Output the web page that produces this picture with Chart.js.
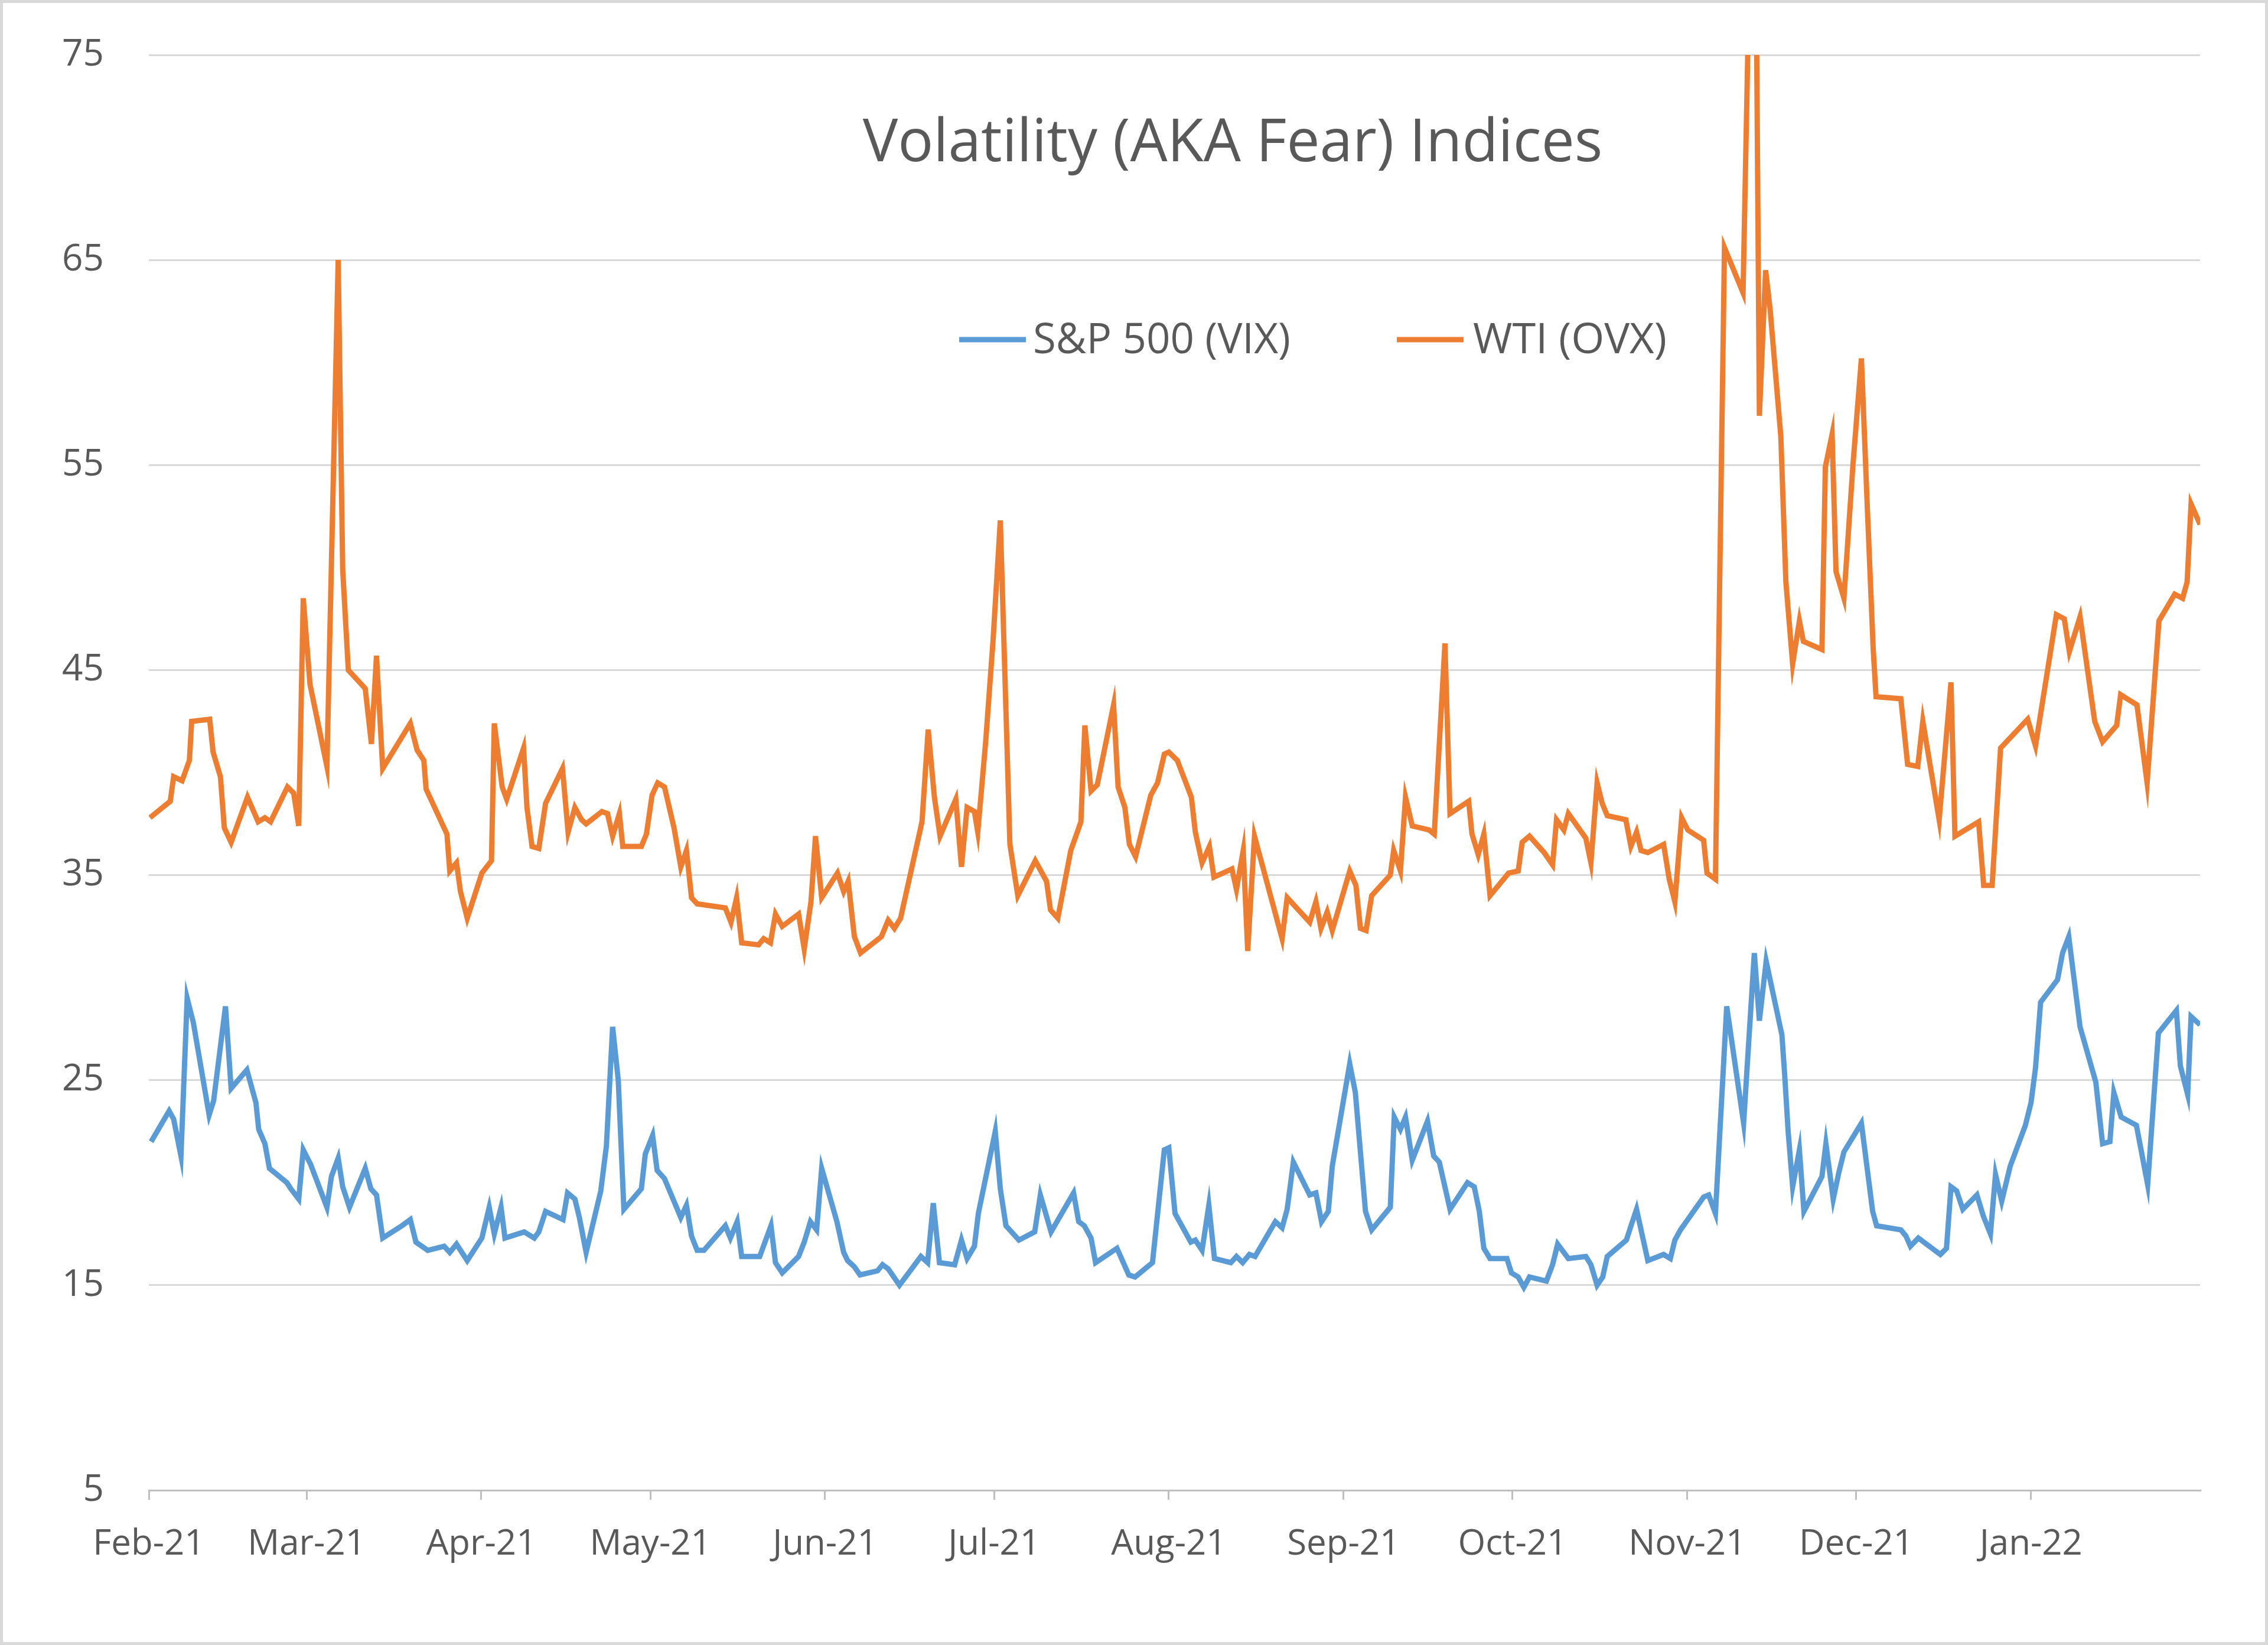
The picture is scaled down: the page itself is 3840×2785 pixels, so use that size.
<!DOCTYPE html>
<html>
<head>
<meta charset="utf-8">
<title>Volatility (AKA Fear) Indices</title>
<script src="https://cdn.jsdelivr.net/npm/chart.js@4.4.1/dist/chart.umd.min.js"></script>
<style>
  html, body { margin: 0; padding: 0; background: #fff; }
  canvas { display: block; }
</style>
</head>
<body>
<canvas id="volChart" width="3840" height="2785"></canvas>
<script>
// chart text and series
const chartTitle = 'Volatility (AKA Fear) Indices';
const seriesNames = ['S&P 500 (VIX)', 'WTI (OVX)'];
const seriesColors = ['#5b9bd5', '#ed7d31'];

// x axis: days since 1 Feb 2021, one tick per month start
const monthTicks = [0, 28, 59, 89, 120, 150, 181, 212, 242, 273, 303, 334];
const monthLabels = ['Feb-21', 'Mar-21', 'Apr-21', 'May-21', 'Jun-21', 'Jul-21',
  'Aug-21', 'Sep-21', 'Oct-21', 'Nov-21', 'Dec-21', 'Jan-22'];
const lastDay = 364;

// y axis
const yMin = 5;
const yMax = 75;
const yStep = 10;

// S&P 500 VIX (day, value)
const vixDays = [0.4, 3.6, 4.4, 5.7, 6.8, 7.9, 10.7, 11.5, 13.6, 14.6, 17.4, 19.0, 19.5, 20.6, 21.4,
  24.5, 25.2, 26.6, 27.4, 28.7, 31.6, 32.4, 33.6, 34.4, 35.6, 38.4, 39.4, 40.4, 41.5, 44.9, 46.4,
  47.4, 49.5, 52.4, 53.4, 54.6, 56.5, 59.1, 60.4, 61.3, 62.5, 63.2, 66.6, 68.4, 69.2, 70.4,
  73.5, 74.3, 75.6, 76.4, 77.6, 80.2, 81.2, 82.3, 83.3, 84.3, 87.4, 88.1, 89.4, 90.2, 91.5, 94.4,
  95.4, 96.3, 97.3, 98.5, 102.3, 103.2, 104.4, 105.2, 108.4, 110.4, 111.2, 112.4, 115.3, 116.3,
  117.4, 118.5, 119.4, 122.1, 123.3, 124.0, 125.2, 126.2, 129.3, 130.2, 131.2, 133.2, 137.0, 138.2,
  139.2, 140.3, 143.0, 144.2, 145.2, 146.5, 147.2, 150.2, 151.1, 152.1, 154.4, 157.2, 158.2, 160.1,
  164.1, 165.0, 166.0, 167.2, 168.0, 171.8, 173.9, 175.0, 178.1, 180.2, 181.0, 182.1, 184.9, 185.7,
  186.9, 188.1, 189.1, 192.0, 193.0, 194.1, 195.3, 196.3, 199.9, 201.1, 202.0, 203.1, 206.0, 207.1,
  208.1, 209.3, 210.0, 213.1, 214.1, 215.9, 217.0, 220.3, 221.0, 222.1, 223.0, 224.2, 226.9, 228.0,
  229.0, 230.9, 234.0, 235.2, 236.1, 236.9, 238.0, 241.0, 241.8, 243.0, 244.0, 245.0, 248.0, 249.1,
  250.0, 251.9, 255.0, 255.9, 257.0, 258.0, 258.8, 262.2, 262.9, 264.0, 266.0, 268.8, 270.0, 270.8,
  271.8, 275.9, 276.8, 278.0, 280.0, 283.0, 284.9, 285.8, 287.0, 289.8, 290.3, 290.9, 291.7, 292.9,
  293.7, 296.9, 297.6, 298.9, 299.9, 300.8, 303.9, 305.9, 306.6, 310.9, 311.8, 312.6, 314.0, 317.9,
  319.0, 319.8, 320.8, 321.9, 324.4, 325.5, 326.8, 327.7, 328.8, 330.3, 333.0, 334.0, 334.8, 335.7,
  338.7, 339.6, 340.7, 342.7, 345.5, 346.7, 348.0, 348.7, 350.0, 352.7, 353.6, 354.7, 356.6, 359.8,
  360.5, 361.8, 362.4, 364.0];
const vixValues = [22.0, 23.5, 23.1, 21.3, 29.0, 27.8, 23.3, 24.0, 28.6, 24.6, 25.5, 23.9, 22.6, 21.9, 20.7,
  20.0, 19.7, 19.2, 21.6, 20.9, 18.8, 20.3, 21.2, 19.8, 18.8, 20.7, 19.7, 19.4, 17.3, 17.9, 18.2,
  17.1, 16.7, 16.9, 16.6, 17.0, 16.2, 17.3, 18.8, 17.5, 18.8, 17.3, 17.6, 17.3, 17.6, 18.6,
  18.2, 19.5, 19.2, 18.3, 16.6, 19.6, 21.8, 27.6, 25.0, 18.7, 19.7, 21.4, 22.3, 20.6, 20.2, 18.3,
  18.9, 17.4, 16.7, 16.7, 17.9, 17.3, 18.1, 16.4, 16.4, 17.9, 16.1, 15.6, 16.4, 17.1,
  18.1, 17.7, 20.7, 18.1, 16.6, 16.2, 15.9, 15.5, 15.7, 16.0, 15.8, 15.0, 16.4, 16.1,
  19.0, 16.1, 16.0, 17.2, 16.3, 16.9, 18.5, 22.5, 19.7, 17.9, 17.2, 17.6, 19.4, 17.6,
  19.5, 18.1, 17.9, 17.3, 16.1, 16.8, 15.5, 15.4, 16.1, 21.6, 21.7, 18.5, 17.1, 17.2,
  16.7, 18.9, 16.3, 16.1, 16.4, 16.1, 16.5, 16.4, 18.1, 17.8, 18.7, 21.0, 19.4, 19.5,
  18.1, 18.6, 20.8, 25.8, 24.4, 18.6, 17.7, 18.8, 23.2, 22.6, 23.2, 21.1, 23.0, 21.3,
  21.0, 18.7, 20.0, 19.8, 18.6, 16.8, 16.3, 16.3, 15.6, 15.4, 14.9, 15.4, 15.2, 16.0,
  17.0, 16.3, 16.4, 16.0, 15.0, 15.4, 16.4, 17.2, 17.8, 18.7, 16.2, 16.5, 16.3, 17.2,
  17.7, 19.3, 19.4, 18.5, 28.6, 22.9, 31.2, 27.9, 30.8, 27.2, 25.2, 22.5, 19.8, 21.6,
  18.6, 20.3, 21.9, 19.2, 20.5, 21.5, 22.9, 18.6, 17.9, 17.7, 17.4, 16.9, 17.3, 16.5,
  16.8, 19.8, 19.6, 18.7, 19.4, 18.4, 17.5, 20.4, 19.1, 20.8, 22.8, 23.9, 25.6, 28.8,
  29.9, 31.2, 32.0, 27.6, 24.9, 21.9, 22.0, 24.4, 23.2, 22.8, 21.5, 19.9, 27.3, 28.4,
  25.7, 24.3, 28.1, 27.7];

// WTI OVX (day, value)
const ovxDays = [0.2, 3.8, 4.4, 5.9, 7.2, 7.6, 10.8, 11.4, 12.7, 13.4, 14.6, 17.5, 19.4, 20.6, 21.6,
  24.6, 25.7, 26.6, 27.4, 28.6, 31.6, 33.6, 34.4, 35.4, 38.4, 39.5, 40.4, 41.5, 46.4, 47.6, 48.8,
  49.2, 52.9, 53.4, 54.6, 55.3, 56.5, 59.1, 60.8, 61.3, 62.7, 63.5, 66.5, 67.1, 68.0, 69.2, 70.4,
  73.4, 74.4, 75.6, 76.8, 77.6, 80.4, 81.4, 82.3, 83.5, 84.1, 87.4, 88.3, 89.3, 90.3, 91.5, 93.2,
  94.4, 95.4, 96.3, 97.3, 102.3, 103.3, 104.3, 105.2, 108.2, 109.1, 110.3, 111.2, 112.4, 115.3,
  116.3, 117.5, 118.3, 119.4, 122.2, 123.3, 124.1, 125.2, 126.3, 130.0, 131.2, 132.3, 133.4, 137.2,
  138.3, 139.4, 140.4, 143.2, 144.2, 145.2, 146.5, 147.1, 148.5, 149.8, 151.1, 152.8, 154.2, 157.3,
  159.3, 160.0, 161.3, 163.6, 165.4, 166.1, 167.2, 168.3, 171.2, 172.0, 173.2, 174.0, 175.1, 177.8,
  179.0, 180.2, 181.0, 182.5, 185.0, 185.7, 186.9, 188.2, 189.0, 192.2, 193.0, 194.2, 195.0, 196.2,
  201.1, 202.0, 206.0, 207.1, 208.0, 209.1, 210.0, 213.1, 214.2, 215.0, 216.0, 217.0, 220.3, 220.9,
  222.1, 223.0, 224.2, 227.2, 228.1, 230.0, 230.9, 234.2, 234.8, 235.9, 236.9, 238.0, 241.3, 243.0,
  243.7, 245.0, 247.6, 249.1, 249.8, 251.1, 251.9, 255.0, 255.9, 257.0, 257.9, 258.8, 262.1, 263.0,
  264.0, 264.8, 266.0, 268.8, 269.8, 270.8, 272.0, 273.1, 275.9, 276.5, 278.0, 279.6, 282.9, 283.8,
  285.3, 285.8, 286.9, 287.7, 289.6, 290.5, 291.7, 292.9, 293.6, 296.9, 297.5, 298.7, 299.4, 300.8,
  302.4, 303.9, 305.0, 306.0, 306.5, 310.9, 312.1, 313.9, 314.8, 317.7, 319.8, 320.5, 324.7, 325.6,
  327.1, 328.6, 333.4, 334.8, 338.5, 339.9, 340.8, 342.7, 345.3, 346.7, 349.2, 349.9, 352.8, 354.6,
  356.7, 359.5, 360.9, 361.7, 362.4, 364.0];
const ovxValues = [37.8, 38.6, 39.8, 39.6, 40.6, 42.5, 42.6, 41.0, 39.8, 37.3, 36.6, 38.8, 37.6, 37.8, 37.6,
  39.3, 39.0, 37.4, 48.5, 44.3, 40.3, 65.0, 49.9, 45.0, 44.1, 41.4, 45.7, 40.2, 42.4, 41.1, 40.6,
  39.2, 37.0, 35.2, 35.6, 34.2, 32.9, 35.1, 35.7, 42.4, 39.3, 38.7, 41.2, 38.3, 36.4, 36.3, 38.5,
  40.2, 37.1, 38.3, 37.7, 37.5, 38.1, 38.0, 36.9, 38.0, 36.4, 36.4, 37.0, 38.9, 39.5, 39.3, 37.3,
  35.4, 36.2, 33.9, 33.6, 33.4, 32.7, 33.9, 31.7, 31.6, 31.9, 31.7, 33.1, 32.5, 33.1,
  31.4, 33.7, 36.9, 33.9, 35.1, 34.2, 34.7, 32.0, 31.2, 32.0, 32.8, 32.4, 32.9, 37.6,
  42.1, 38.8, 36.9, 38.7, 35.4, 38.3, 38.1, 37.1, 41.5, 46.4, 52.3, 36.5, 34.0, 35.7,
  34.7, 33.3, 32.9, 36.2, 37.6, 42.3, 39.1, 39.4, 43.3, 39.3, 38.3, 36.5, 35.9, 38.9,
  39.5, 40.9, 41.0, 40.6, 38.8, 37.1, 35.6, 36.4, 34.9, 35.3, 34.3, 36.2, 31.3, 36.9,
  31.9, 33.9, 32.7, 33.7, 32.4, 33.2, 32.3, 35.2, 34.5, 32.4, 32.3, 34.0, 35.0, 36.2,
  35.2, 38.8, 37.4, 37.2, 37.0, 46.3, 38.0, 38.6, 37.0, 36.0, 37.0, 34.0, 35.1, 35.2,
  36.6, 36.9, 36.1, 35.5, 37.7, 37.2, 38.0, 36.8, 35.6, 39.5, 38.5, 37.9, 37.7, 36.4,
  37.1, 36.2, 36.1, 36.5, 34.8, 33.7, 37.8, 37.2, 36.7, 35.1, 34.8, 65.6, 63.4, 76.0,
  76.0, 57.4, 64.5, 62.6, 56.4, 49.3, 45.3, 47.4, 46.4, 46.0, 54.9, 56.5, 49.8, 48.5,
  55.0, 60.2, 52.6, 46.0, 43.7, 43.6, 40.4, 40.3, 42.5, 37.7, 44.4, 36.9, 37.6, 34.5,
  34.5, 41.2, 42.6, 41.3, 47.7, 47.5, 45.9, 47.6, 42.5, 41.5, 42.3, 43.8, 43.3, 39.5,
  47.4, 48.7, 48.5, 49.3, 53.1, 52.1];

const fontFamily = '"Open Sans", "Noto Sans", "DejaVu Sans", sans-serif';
const textColor = '#595959';

function toPoints(days, values) {
  return days.map((d, i) => ({ x: d, y: values[i] }));
}

// fit a label into the width it takes in the picture
function setFittedFont(ctx, text, maxSize, targetWidth) {
  ctx.font = maxSize + 'px ' + fontFamily;
  const w = ctx.measureText(text).width;
  let size = maxSize;
  if (w > targetWidth) size = maxSize * targetWidth / w;
  ctx.font = size + 'px ' + fontFamily;
}

const frame = {
  id: 'frame',
  beforeDraw(chart) {
    const ctx = chart.ctx;
    ctx.save();
    ctx.fillStyle = '#ffffff';
    ctx.fillRect(0, 0, chart.width, chart.height);
    ctx.restore();
  },
  afterDraw(chart) {
    const ctx = chart.ctx;
    ctx.save();
    ctx.strokeStyle = '#d9d9d9';
    ctx.lineWidth = 5;
    ctx.strokeRect(2.5, 2.5, chart.width - 5, chart.height - 5);
    ctx.restore();
  }
};

// title and legend sit inside the plot area, like the Excel original
const overlayText = {
  id: 'overlayText',
  afterDraw(chart) {
    const ctx = chart.ctx;
    ctx.save();
    ctx.fillStyle = textColor;
    ctx.textBaseline = 'alphabetic';

    ctx.textAlign = 'center';
    setFittedFont(ctx, chartTitle, 102, 1253);
    ctx.fillText(chartTitle, 2087, 273);

    const legendItems = [
      { x: 1624, textX: 1749, width: 436 },
      { x: 2365, textX: 2494, width: 330 }
    ];
    ctx.textAlign = 'left';
    legendItems.forEach((item, i) => {
      ctx.strokeStyle = seriesColors[i];
      ctx.lineWidth = 9;
      ctx.beginPath();
      ctx.moveTo(item.x, 575);
      ctx.lineTo(item.x + 113, 575);
      ctx.stroke();
      setFittedFont(ctx, seriesNames[i], 72, item.width);
      ctx.fillText(seriesNames[i], item.textX, 598);
    });
    ctx.restore();
  }
};

const ctx = document.getElementById('volChart').getContext('2d');
new Chart(ctx, {
  type: 'line',
  data: {
    datasets: [
      {
        label: seriesNames[0],
        data: toPoints(vixDays, vixValues),
        borderColor: seriesColors[0],
        borderWidth: 9,
        pointRadius: 0,
        tension: 0
      },
      {
        label: seriesNames[1],
        data: toPoints(ovxDays, ovxValues),
        borderColor: seriesColors[1],
        borderWidth: 9,
        pointRadius: 0,
        tension: 0
      }
    ]
  },
  options: {
    responsive: false,
    animation: false,
    devicePixelRatio: 1,
    layout: { padding: { top: 93, right: 115, left: 0, bottom: 0 } },
    plugins: {
      legend: { display: false },
      title: { display: false },
      tooltip: { enabled: false }
    },
    scales: {
      x: {
        type: 'linear',
        min: 0,
        max: lastDay,
        afterFit: (scale) => {
          scale.height = 262;
          scale.paddingLeft = 0;
          scale.paddingRight = 0;
        },
        afterBuildTicks: (scale) => { scale.ticks = monthTicks.map(v => ({ value: v })); },
        grid: {
          drawOnChartArea: false,
          drawTicks: true,
          tickLength: 16,
          color: '#bfbfbf',
          lineWidth: 3
        },
        border: { display: true, color: '#bfbfbf', width: 3 },
        ticks: {
          autoSkip: false,
          maxRotation: 0,
          padding: 40,
          color: textColor,
          font: { family: fontFamily, size: 60 },
          callback: (value) => {
            const i = monthTicks.indexOf(value);
            return i >= 0 ? monthLabels[i] : '';
          }
        }
      },
      y: {
        min: yMin,
        max: yMax,
        afterFit: (scale) => {
          scale.width = 252;
          scale.paddingTop = 0;
          scale.paddingBottom = 0;
        },
        grid: {
          drawTicks: false,
          color: '#d9d9d9',
          lineWidth: 3
        },
        border: { display: false },
        ticks: {
          stepSize: yStep,
          padding: 76,
          color: textColor,
          font: { family: fontFamily, size: 62 }
        }
      }
    }
  },
  plugins: [frame, overlayText]
});
</script>
</body>
</html>
